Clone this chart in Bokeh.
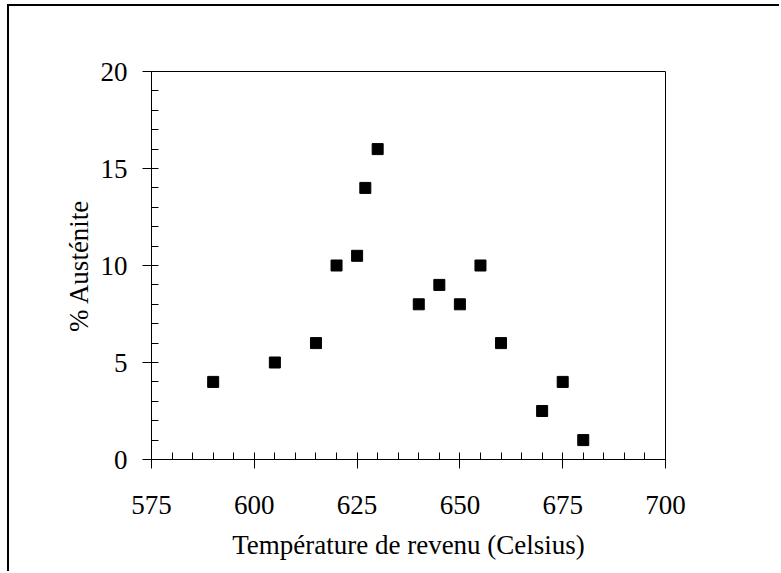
from bokeh.plotting import figure
from bokeh.models import SingleIntervalTicker, Range1d
from bokeh.embed import file_html
from bokeh.resources import INLINE

temperature = [590, 605, 615, 620, 625, 627, 630, 640, 645, 650, 655, 660, 670, 675, 680]
austenite = [4, 5, 6, 10, 10.5, 14, 16, 8, 9, 8, 10, 6, 2.5, 4, 1]

x_title = "Température de revenu (Celsius)"
y_title = "% Austénite"

FONT = "Liberation Serif"

p = figure(width=772, height=567, output_backend="svg", toolbar_location=None,
           x_range=Range1d(575, 700), y_range=Range1d(0, 20),
           min_border_left=142, min_border_right=116, min_border_top=65, min_border_bottom=114,
           styles={"margin-left": "7px", "margin-top": "4px",
                   "border-left": "2px solid black", "border-top": "2px solid black"})

p.scatter(temperature, austenite, marker="square", size=11, fill_color="black", line_color="black")

p.grid.visible = False
p.outline_line_color = "black"
p.outline_line_width = 1
p.background_fill_color = "white"
p.border_fill_color = "white"

p.xaxis.ticker = SingleIntervalTicker(interval=25, num_minor_ticks=5)
p.yaxis.ticker = SingleIntervalTicker(interval=5, num_minor_ticks=5)

for ax in (p.xaxis[0], p.yaxis[0]):
    ax.major_tick_out = 9
    ax.major_tick_in = 0
    ax.minor_tick_out = 0
    ax.minor_tick_in = 7
    ax.axis_line_color = "black"
    ax.major_tick_line_color = "black"
    ax.minor_tick_line_color = "black"
    ax.major_label_text_font = FONT
    ax.major_label_text_font_size = "27px"
    ax.major_label_text_color = "black"
    ax.axis_label_text_font = FONT
    ax.axis_label_text_font_size = "27px"
    ax.axis_label_text_font_style = "normal"
    ax.axis_label_text_color = "black"

p.xaxis.axis_label = x_title
p.yaxis.axis_label = y_title
p.xaxis.major_label_standoff = 27
p.yaxis.major_label_standoff = 15
p.xaxis.axis_label_standoff = 13
p.yaxis.axis_label_standoff = 4

open("out.html", "w").write(file_html(p, INLINE))
